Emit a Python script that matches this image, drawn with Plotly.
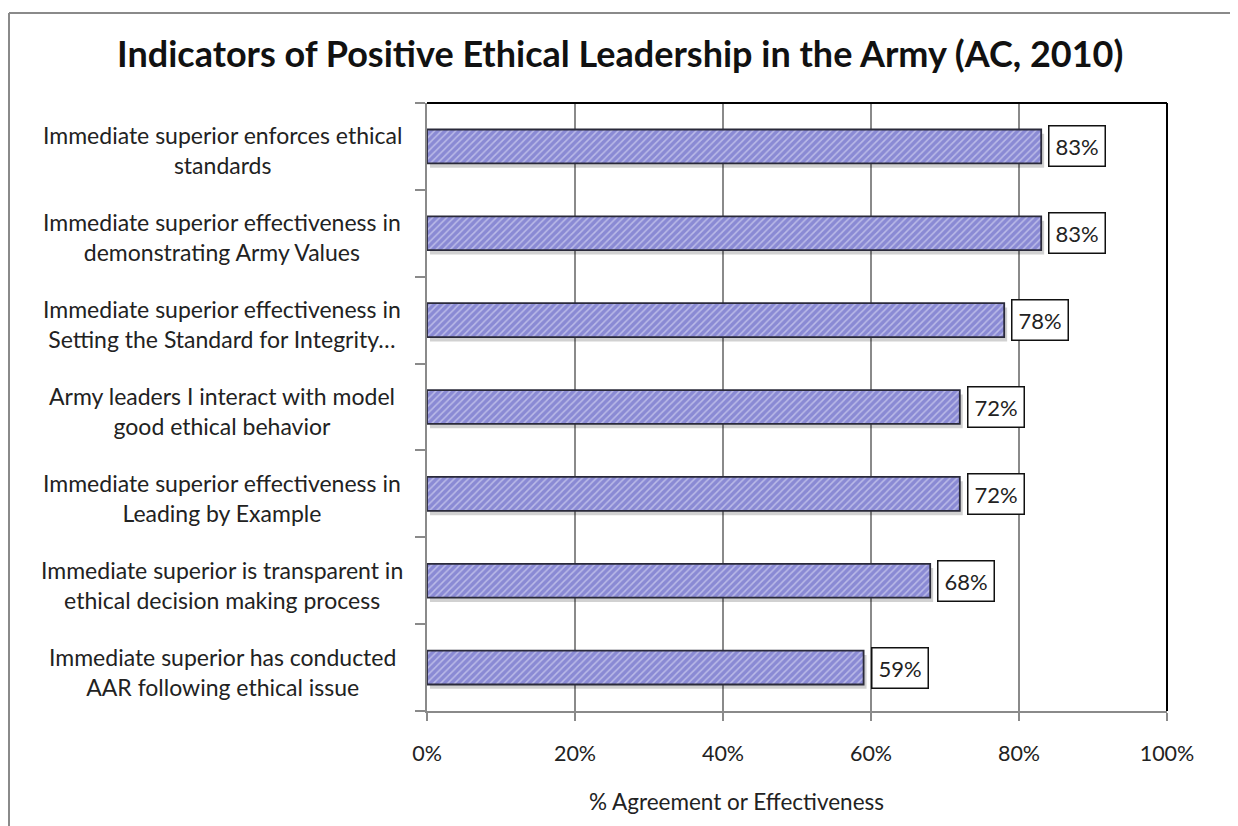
import plotly.graph_objects as go

categories = [
    "Immediate superior enforces ethical<br>standards",
    "Immediate superior effectiveness in<br>demonstrating Army Values",
    "Immediate superior effectiveness in<br>Setting the Standard for Integrity\u2026",
    "Army leaders I interact with model<br>good ethical behavior",
    "Immediate superior effectiveness in<br>Leading by Example",
    "Immediate superior is transparent in<br>ethical decision making process",
    "Immediate superior has conducted<br>AAR following ethical issue",
]
values = [0.83, 0.83, 0.78, 0.72, 0.72, 0.68, 0.59]
value_labels = ["83%", "83%", "78%", "72%", "72%", "68%", "59%"]
x_ticks = [0, 0.2, 0.4, 0.6, 0.8, 1.0]
x_tick_labels = ["0%", "20%", "40%", "60%", "80%", "100%"]

FONT = "Lato"
TXT = "#222222"

# page body has an 8px margin; plot area target: x 427..1167, y 103..711
OFF = 8
PL, PR, PT, PB = 427, 1167, 103, 711
PW, PH = PR - PL, PB - PT
BAR_W = 0.39

def px(xp):
    return (xp - PL) / PW

def py(yp):
    return (PB - yp) / PH

ypos = list(range(len(categories)))

fig = go.Figure()
# soft drop shadow under each bar
fig.add_trace(go.Bar(
    x=values, y=ypos, orientation="h", base=0.004,
    marker=dict(color="rgba(0,0,0,0.18)", line=dict(width=0)),
    width=BAR_W, offset=-BAR_W / 2 + 0.05,
    hoverinfo="skip", showlegend=False,
))
fig.add_trace(go.Bar(
    x=values, y=ypos, orientation="h",
    marker=dict(
        color="#8c8cd6",
        line=dict(color="#2a2a3a", width=1.8),
        pattern=dict(shape="/", fgcolor="#ececfb", bgcolor="#8a8ad4", size=5, solidity=0.3),
    ),
    width=BAR_W, offset=-BAR_W / 2,
    hoverinfo="skip", showlegend=False,
))

annotations = []
for i, (v, lab) in enumerate(zip(values, value_labels)):
    annotations.append(dict(
        x=v, y=i, xref="x", yref="y", text=lab, showarrow=False,
        xanchor="left", yanchor="middle", xshift=7,
        font=dict(family=FONT, size=22, color=TXT),
        bgcolor="white", bordercolor="#111111", borderwidth=1.5, borderpad=6,
    ))
for i, c in enumerate(categories):
    annotations.append(dict(
        x=px(222), y=i, xref="paper", yref="y", text=c, showarrow=False,
        xanchor="center", yanchor="middle", align="center", yshift=-4,
        font=dict(family=FONT, size=23, color=TXT),
    ))
annotations.append(dict(
    x=px(736), y=py(801), xref="paper", yref="paper",
    text="% Agreement or Effectiveness", showarrow=False,
    xanchor="center", yanchor="middle",
    font=dict(family=FONT, size=22.5, color=TXT),
))
annotations.append(dict(
    x=px(620), y=py(53), xref="paper", yref="paper",
    text="<b>Indicators of Positive Ethical Leadership in the Army (AC, 2010)</b>",
    showarrow=False, xanchor="center", yanchor="middle",
    font=dict(family=FONT, size=36, color="#111111"),
))

shapes = [
    dict(type="line", xref="paper", yref="paper", x0=0, x1=1, y0=1, y1=1,
         line=dict(color="black", width=2)),
    dict(type="line", xref="paper", yref="paper", x0=1, x1=1, y0=0, y1=1,
         line=dict(color="black", width=2)),
    dict(type="line", xref="paper", yref="paper",
         x0=px(9), x1=px(1245), y0=py(13), y1=py(13),
         line=dict(color="#8a8a8a", width=2)),
    dict(type="line", xref="paper", yref="paper",
         x0=px(9), x1=px(9), y0=py(13), y1=py(840),
         line=dict(color="#8a8a8a", width=2)),
]

fig.update_layout(
    width=1238 - OFF, height=826 - OFF,
    margin=dict(l=PL - OFF, r=1238 - PR, t=PT - OFF, b=826 - PB),
    paper_bgcolor="white", plot_bgcolor="white",
    barmode="overlay",
    annotations=annotations, shapes=shapes,
    xaxis=dict(
        range=[0, 1], tickvals=x_ticks, ticktext=x_tick_labels,
        showgrid=True, gridcolor="#8a8a8a", gridwidth=1.5,
        showline=True, linecolor="#8a8a8a", linewidth=2,
        ticks="outside", ticklen=8, tickcolor="#8a8a8a", tickwidth=1.5,
        ticklabelstandoff=14,
        tickfont=dict(family=FONT, size=21.5, color=TXT),
        zeroline=False, fixedrange=True,
    ),
    yaxis=dict(
        range=[len(categories) - 0.5, -0.5],
        tickvals=[i - 0.5 for i in range(len(categories) + 1)],
        showticklabels=False,
        showgrid=False, zeroline=False,
        showline=True, linecolor="#8a8a8a", linewidth=2,
        ticks="outside", ticklen=10, tickcolor="#8a8a8a", tickwidth=1.5,
        fixedrange=True,
    ),
)

fig.write_html("out.html")
